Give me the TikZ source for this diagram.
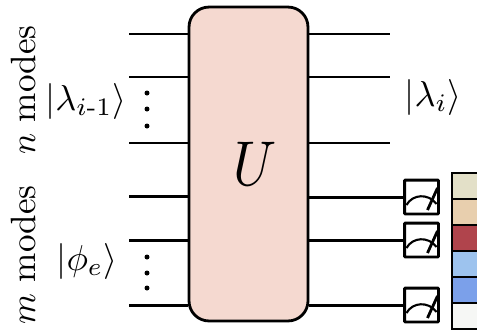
\documentclass[tikz,border=0pt]{standalone}
\usepackage{amsmath}
\usepackage{amssymb}
\usepackage{tikz}
\usepackage{xcolor}
\usetikzlibrary{calc}
\definecolor{unitaryfill}{HTML}{F5D9D0}
\tikzset{
  wire/.style={line width=1.7pt},
  meter/.style={draw,line width=1.7pt,rounded corners=0.5pt,fill=white,minimum width=0.68cm,minimum height=0.68cm,inner sep=0pt},
  cell/.style={draw,line width=1.6pt,minimum width=0.8cm,minimum height=0.52cm,inner sep=0pt},
  bigtext/.style={scale=2.0},
  kettext/.style={scale=2.05},
  dotnode/.style={circle,fill=black,minimum size=0.1cm,inner sep=0pt}
}
\begin{document}
\begin{tikzpicture}[x=0.02cm,y=-0.02cm]
  \useasboundingbox (0,0) rectangle (477,329);

  % unitary block
  \node[draw,line width=1.6pt,rounded corners=0.4cm,fill=unitaryfill,minimum width=2.38cm,minimum height=6.28cm,inner sep=0pt] (U) at (248.5,164) {};
  \node[xscale=3.1,yscale=3.6] (Ulabel) at (255,164) {$U$};

  % wires on the left
  \foreach \name/\ypos in {a/34,b/77,c/143,d/196,e/240,f/305} {
    \coordinate (in\name) at (129,\ypos);
    \draw[wire] (in\name) -- (in\name -| U.west);
  }

  % top wires on the right
  \foreach \name/\ypos in {a/34,b/77,c/143} {
    \coordinate (out\name) at (390,\ypos);
    \draw[wire] (U.east |- out\name) -- (out\name);
  }

  % measured wires
  \foreach \name/\ypos in {d/197,e/240,f/305} {
    \node[meter] (meter\name) at (421.5,\ypos) {};
    \draw[wire] (U.east |- meter\name) -- (meter\name);
    \draw[line width=1.2pt] ($(meter\name)+(-15,8)$) .. controls ($(meter\name)+(-9,-3)$) and ($(meter\name)+(7,-4)$) .. ($(meter\name)+(15,7)$);
    \draw[line width=1.6pt] ($(meter\name)+(6,13)$) -- ($(meter\name)+(16,-9)$);
  }

  % outcome strip
  \foreach \name/\ypos/\col in {a/186/E3E0C8,b/212/E8CFAE,c/238/B0444C,d/264/9DC3EE,e/290/7BA0EA,f/316/F6F7F5} {
    \definecolor{cellcol}{HTML}{\col}
    \node[cell,fill=cellcol] (cell\name) at (472,\ypos) {};
  }

  % dots
  \foreach \name/\ypos in {a/93,b/109,c/126,d/257,e/273,f/288} {
    \node[dotnode] (dot\name) at (147,\ypos) {};
  }

  % labels
  \node[kettext] (lamprev) at (86,101) {$|\lambda_{i\text{-}1}\rangle$};
  \node[kettext] (lamnext) at (433,97) {$|\lambda_i\rangle$};
  \node[kettext] (phie) at (87,261) {$|\phi_e\rangle$};
  \node[bigtext,rotate=90] (nmodes) at (23,90) {$n$ modes};
  \node[bigtext,rotate=90] (mmodes) at (23,255) {$m$ modes};
\end{tikzpicture}
\end{document}
